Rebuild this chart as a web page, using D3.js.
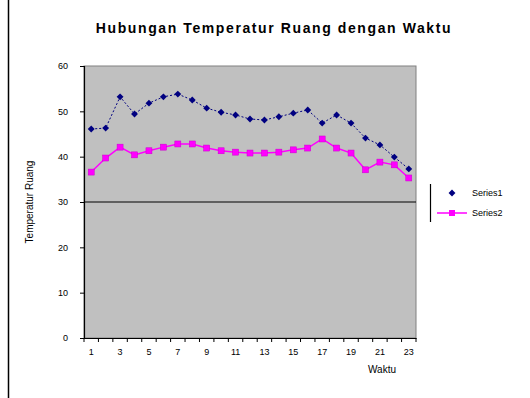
<!DOCTYPE html>
<html>
<head>
<meta charset="utf-8">
<script src="https://cdn.jsdelivr.net/npm/d3@7"></script>
<style>
  body { margin: 0; background: #fff; }
  svg { display: block; font-family: "Liberation Sans", Arial, sans-serif; }
</style>
</head>
<body>
<div id="chart"></div>
<script>
const categories = d3.range(1, 24);
const series1 = [46.1, 46.3, 53.2, 49.4, 51.8, 53.2, 53.8, 52.5, 50.7, 49.8, 49.2, 48.3,
                 48.1, 48.8, 49.6, 50.3, 47.4, 49.2, 47.4, 44.1, 42.6, 39.9, 37.3];
const series2 = [36.6, 39.7, 42.1, 40.4, 41.3, 42.1, 42.8, 42.8, 41.9, 41.3, 41.0, 40.8,
                 40.8, 41.0, 41.5, 41.9, 43.9, 41.9, 40.8, 37.1, 38.8, 38.2, 35.3];
const yTicks = [0, 10, 20, 30, 40, 50, 60];
const seriesNames = ['Series1', 'Series2'];

const width = 530, height = 398;
const plot = { left: 84, right: 416, top: 66, bottom: 338 };

const svg = d3.select('#chart').append('svg')
    .attr('width', width)
    .attr('height', height);

// chart area border (left edge only visible)
svg.append('line')
    .attr('x1', 8.5).attr('x2', 8.5).attr('y1', 0).attr('y2', height)
    .attr('stroke', '#000').attr('stroke-width', 1.5);

const x = d3.scaleBand().domain(categories).range([plot.left, plot.right]);
const y = d3.scaleLinear().domain([0, 60]).range([plot.bottom, plot.top]);

// plot area
svg.append('rect')
    .attr('x', plot.left).attr('y', plot.top)
    .attr('width', plot.right - plot.left).attr('height', plot.bottom - plot.top)
    .attr('fill', '#c0c0c0').attr('stroke', '#808080');

// line at 30
svg.append('line')
    .attr('x1', plot.left).attr('x2', plot.right)
    .attr('y1', y(30)).attr('y2', y(30))
    .attr('stroke', '#000').attr('stroke-width', 1.2);

// y axis
const yAxis = svg.append('g')
    .attr('transform', `translate(${plot.left},0)`)
    .call(d3.axisLeft(y).tickValues(yTicks).tickSize(4).tickFormat(d3.format('d')));
yAxis.select('.domain').attr('stroke', '#000').attr('stroke-width', 1.2);
yAxis.selectAll('text').attr('font-size', 9).attr('fill', '#000').attr('dx', -9);

// x axis
const xAxis = svg.append('g')
    .attr('transform', `translate(0,${plot.bottom})`)
    .call(d3.axisBottom(x).tickSize(0).tickFormat(d => d % 2 === 1 ? d : ''));
xAxis.select('.domain').attr('stroke', '#000').attr('stroke-width', 1.2);
xAxis.selectAll('text').attr('font-size', 9).attr('fill', '#000').attr('dy', '1.6em');

// tick marks on category boundaries
svg.append('g').selectAll('line')
    .data(categories.concat([categories.length + 1]))
    .join('line')
    .attr('x1', (d, i) => plot.left + i * x.bandwidth())
    .attr('x2', (d, i) => plot.left + i * x.bandwidth())
    .attr('y1', plot.bottom).attr('y2', plot.bottom + 4)
    .attr('stroke', '#000');

const cx = (d, i) => x(categories[i]) + x.bandwidth() / 2;
const lineGen = d3.line().x(cx).y(d => y(d));

// series 1
svg.append('path')
    .attr('d', lineGen(series1))
    .attr('fill', 'none').attr('stroke', '#000080')
    .attr('stroke-width', 1).attr('stroke-dasharray', '2,2');
svg.append('g').selectAll('path')
    .data(series1)
    .join('path')
    .attr('transform', (d, i) => `translate(${cx(d, i)},${y(d)})`)
    .attr('d', d3.symbol(d3.symbolDiamond2, 30))
    .attr('fill', '#000080');

// series 2
svg.append('path')
    .attr('d', lineGen(series2))
    .attr('fill', 'none').attr('stroke', '#ff00ff')
    .attr('stroke-width', 1.5);
svg.append('g').selectAll('rect')
    .data(series2)
    .join('rect')
    .attr('x', (d, i) => cx(d, i) - 3)
    .attr('y', d => y(d) - 3)
    .attr('width', 6).attr('height', 6)
    .attr('fill', '#ff00ff').attr('stroke', '#cc00cc').attr('stroke-width', 0.5);

// title
svg.append('text')
    .attr('x', 274).attr('y', 33)
    .attr('text-anchor', 'middle')
    .attr('font-size', 14).attr('font-weight', 'bold')
    .attr('letter-spacing', 1.6)
    .text('Hubungan Temperatur Ruang dengan Waktu');

// axis titles
svg.append('text')
    .attr('transform', `translate(33,${(plot.top + plot.bottom) / 2}) rotate(-90)`)
    .attr('text-anchor', 'middle')
    .attr('font-size', 10)
    .text('Temperatur Ruang');
svg.append('text')
    .attr('x', 382).attr('y', 373)
    .attr('text-anchor', 'middle')
    .attr('font-size', 10)
    .text('Waktu');

// legend
const legend = svg.append('g').attr('transform', 'translate(430,184)');
legend.append('line')
    .attr('x1', 0.5).attr('x2', 0.5).attr('y1', 0).attr('y2', 38)
    .attr('stroke', '#000').attr('stroke-width', 1.2);
legend.append('path')
    .attr('transform', 'translate(22,9)')
    .attr('d', d3.symbol(d3.symbolDiamond2, 30))
    .attr('fill', '#000080');
legend.append('line')
    .attr('x1', 7).attr('x2', 37).attr('y1', 29).attr('y2', 29)
    .attr('stroke', '#ff00ff').attr('stroke-width', 1.5);
legend.append('rect')
    .attr('x', 19).attr('y', 26).attr('width', 6).attr('height', 6)
    .attr('fill', '#ff00ff');
legend.selectAll('text.lbl')
    .data(seriesNames)
    .join('text')
    .attr('class', 'lbl')
    .attr('x', 42).attr('y', (d, i) => 12 + i * 20)
    .attr('font-size', 9)
    .text(d => d);
</script>
</body>
</html>
